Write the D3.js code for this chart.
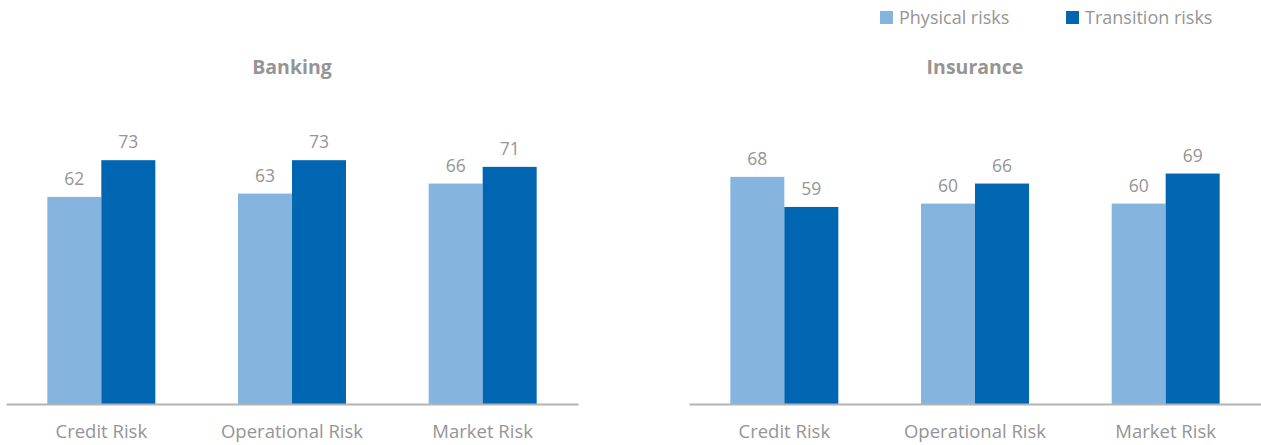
<!DOCTYPE html>
<html><head><meta charset="utf-8">
<script src="https://cdn.jsdelivr.net/npm/d3@7"></script>
<style>body{margin:0;background:#fff;} text{font-family:"Open Sans",sans-serif;}</style>
</head><body><svg id="c" width="1261" height="445"></svg>
<script>
const categories = ["Credit Risk", "Operational Risk", "Market Risk"];
const seriesNames = ["Physical risks", "Transition risks"];
const panels = ["Banking", "Insurance"];
const bankingPhysical = [62, 63, 66];
const bankingTransition = [73, 73, 71];
const insurancePhysical = [68, 60, 60];
const insuranceTransition = [59, 66, 69];
const colors = ["#85b4df", "#0066b2"];
const panelData = [[bankingPhysical, bankingTransition],[insurancePhysical, insuranceTransition]];

const svg = d3.select("#c");
const gray = "#959595";
const y = d3.scaleLinear().domain([0, 100]).range([404, 70]);
const xRanges = [[6, 578], [689, 1261]];
const FONT = "Open Sans";

panels.forEach((name, pi) => {
  const g = svg.append("g");
  const x0 = d3.scaleBand().domain(categories).range(xRanges[pi]).paddingInner(0).paddingOuter(0);
  const gw = 108;
  const x1 = d3.scaleBand().domain(seriesNames).range([0, gw]);
  categories.forEach((cat, ci) => {
    seriesNames.forEach((s, si) => {
      const v = panelData[pi][si][ci];
      const bx = x0(cat) + x0.bandwidth()/2 - gw/2 + x1(s);
      g.append("rect").attr("x", bx).attr("y", y(v)).attr("width", x1.bandwidth()).attr("height", y(0)-y(v)).attr("fill", colors[si]);
      g.append("text").attr("x", bx + x1.bandwidth()/2).attr("y", y(v) - 12).attr("text-anchor","middle")
        .attr("font-size", 17.5).attr("fill", gray).text(v);
    });
  });
  const axis = d3.axisBottom(x0).tickSize(0);
  const ag = g.append("g").attr("transform", `translate(0,${y(0)})`).call(axis);
  ag.select(".domain").attr("stroke", "#b3b3b3").attr("stroke-width", 2);
  ag.selectAll(".tick text").attr("y", 34).attr("dy", 0).attr("font-size", 18.5).attr("fill", gray).attr("font-family", FONT);
  g.append("text").attr("x", (xRanges[pi][0]+xRanges[pi][1])/2).attr("y", 74).attr("text-anchor","middle")
    .attr("font-size", 19.5).attr("font-weight","bold").attr("fill", gray).text(name);
});

const leg = svg.append("g");
const legX = [880, 1066];
seriesNames.forEach((s, i) => {
  leg.append("rect").attr("x", legX[i]).attr("y", 11).attr("width", 13).attr("height", 13).attr("fill", colors[i]);
  leg.append("text").attr("x", legX[i] + 19).attr("y", 24).attr("font-size", 18).attr("fill", gray).text(s);
});
</script></body></html>
